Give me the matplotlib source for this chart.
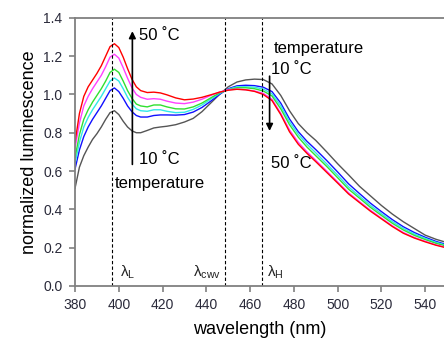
import numpy as np
import matplotlib
matplotlib.use('Agg')
import matplotlib.pyplot as plt

plt.rcParams['font.family'] = ['Liberation Sans', 'DejaVu Sans']

wl = [380, 382, 384, 386, 388, 390, 392, 394, 396, 398, 400, 402, 404, 406, 408, 410,
      413, 416, 419, 422, 426, 430, 434, 438, 442, 446, 450, 454, 458, 462, 466, 470,
      474, 478, 482, 486, 490, 495, 500, 505, 510, 515, 520, 525, 530, 535, 540, 545, 550]

t10 = [0.51, 0.62, 0.68, 0.725, 0.765, 0.795, 0.83, 0.87, 0.905, 0.915, 0.895, 0.86, 0.83, 0.81, 0.80, 0.80,
       0.812, 0.825, 0.83, 0.834, 0.842, 0.856, 0.875, 0.91, 0.955, 1.0, 1.04, 1.065, 1.076, 1.08, 1.078, 1.055,
       0.995, 0.915, 0.848, 0.80, 0.76, 0.70, 0.638, 0.58, 0.52, 0.47, 0.42, 0.375, 0.335, 0.30, 0.265, 0.243, 0.226]
t18 = [0.61, 0.71, 0.78, 0.83, 0.87, 0.905, 0.94, 0.98, 1.02, 1.034, 1.015, 0.98, 0.94, 0.91, 0.89, 0.882,
       0.882, 0.89, 0.893, 0.893, 0.892, 0.895, 0.908, 0.932, 0.965, 1.0, 1.03, 1.045, 1.048, 1.046, 1.038, 1.015,
       0.955, 0.872, 0.806, 0.755, 0.712, 0.655, 0.595, 0.533, 0.482, 0.432, 0.388, 0.346, 0.309, 0.279, 0.254, 0.232, 0.215]
t26 = [0.64, 0.75, 0.83, 0.88, 0.92, 0.955, 0.99, 1.03, 1.07, 1.086, 1.07, 1.03, 0.985, 0.95, 0.925, 0.915,
       0.912, 0.92, 0.92, 0.912, 0.905, 0.907, 0.922, 0.945, 0.975, 1.005, 1.027, 1.04, 1.04, 1.038, 1.028, 1.003,
       0.94, 0.857, 0.792, 0.740, 0.695, 0.637, 0.578, 0.517, 0.468, 0.42, 0.377, 0.336, 0.30, 0.271, 0.248, 0.227, 0.211]
t34 = [0.67, 0.79, 0.87, 0.92, 0.96, 0.995, 1.03, 1.07, 1.115, 1.132, 1.115, 1.07, 1.02, 0.98, 0.95, 0.94,
       0.935, 0.945, 0.945, 0.935, 0.925, 0.924, 0.935, 0.955, 0.982, 1.008, 1.025, 1.035, 1.035, 1.03, 1.018, 0.992,
       0.925, 0.842, 0.777, 0.725, 0.68, 0.624, 0.565, 0.505, 0.458, 0.41, 0.368, 0.327, 0.292, 0.264, 0.242, 0.222, 0.207]
t42 = [0.72, 0.85, 0.94, 0.99, 1.03, 1.065, 1.10, 1.145, 1.195, 1.21, 1.19, 1.14, 1.085, 1.035, 1.0, 0.985,
       0.975, 0.978, 0.975, 0.965, 0.955, 0.952, 0.96, 0.975, 0.995, 1.012, 1.025, 1.028, 1.025, 1.018, 1.006, 0.975,
       0.902, 0.815, 0.75, 0.70, 0.656, 0.60, 0.543, 0.486, 0.44, 0.395, 0.354, 0.314, 0.279, 0.253, 0.233, 0.214, 0.20]
t50 = [0.75, 0.90, 0.99, 1.04, 1.075, 1.11, 1.15, 1.20, 1.25, 1.265, 1.245, 1.195, 1.135, 1.08, 1.04, 1.02,
       1.01, 1.012, 1.008, 0.998, 0.982, 0.972, 0.976, 0.985, 0.998, 1.012, 1.022, 1.027, 1.024, 1.016, 1.0, 0.968,
       0.895, 0.805, 0.74, 0.692, 0.649, 0.593, 0.537, 0.48, 0.435, 0.39, 0.35, 0.31, 0.275, 0.25, 0.23, 0.212, 0.198]

series = [t10, t18, t26, t34, t42, t50]
colors = ['#555555', '#1010ff', '#30e8e8', '#30e030', '#ff40ff', '#ff0000']

lam_pos = [397.0, 448.5, 465.5]
lam_text = [r'$\mathregular{\lambda_L}$', r'$\mathregular{\lambda_{cwv}}$', r'$\mathregular{\lambda_H}$']
lam_text_x = [400.5, 433.7, 467.7]

fig = plt.figure(figsize=(4.44, 3.44), dpi=100)
ax = fig.add_axes([0.169, 0.169, 0.831, 0.779])

for y, c in zip(series, colors):
    ax.plot(wl, y, color=c, lw=1.0)

for x in lam_pos:
    ax.plot([x, x], [0, 1.4], color='k', lw=0.8, ls=(0, (3, 2)))
for x, s in zip(lam_text_x, lam_text):
    ax.text(x, 0.073, s, fontsize=11, va='center', ha='left', color='#222222')

ax.annotate('', xy=(406.2, 1.345), xytext=(406.2, 0.62),
            arrowprops=dict(arrowstyle='-|>', color='k', lw=1.2, mutation_scale=10))
ax.annotate('', xy=(468.9, 0.795), xytext=(468.9, 1.11),
            arrowprops=dict(arrowstyle='-|>', color='k', lw=1.2, mutation_scale=10))

ax.text(409.2, 1.306, '50 ˚C', fontsize=12, va='center', ha='left')
ax.text(409.2, 0.658, '10 ˚C', fontsize=12, va='center', ha='left')
ax.text(398.3, 0.534, 'temperature', fontsize=12, va='center', ha='left')
ax.text(470.7, 1.242, 'temperature', fontsize=12, va='center', ha='left')
ax.text(469.4, 1.128, '10 ˚C', fontsize=12, va='center', ha='left')
ax.text(469.4, 0.641, '50 ˚C', fontsize=12, va='center', ha='left')

ax.set_xlim(380, 548.6)
ax.set_ylim(0, 1.4)
ax.set_xticks(np.arange(380, 541, 20))
ax.set_yticks(np.arange(0, 1.41, 0.2))
ax.set_yticklabels(['%.1f' % v for v in np.arange(0, 1.41, 0.2)])

for s in ['left', 'top', 'bottom']:
    ax.spines[s].set_color('#808080')
    ax.spines[s].set_linewidth(1.3)
ax.spines['right'].set_visible(False)
ax.tick_params(direction='out', length=4, width=1.2, color='#808080',
               labelsize=10, labelcolor='#2a2a3a', pad=5)

ax.set_xlabel('wavelength (nm)', fontsize=13, labelpad=6)
ax.set_ylabel('normalized luminescence', fontsize=13, labelpad=4)

fig.savefig('out.png', dpi=100)
